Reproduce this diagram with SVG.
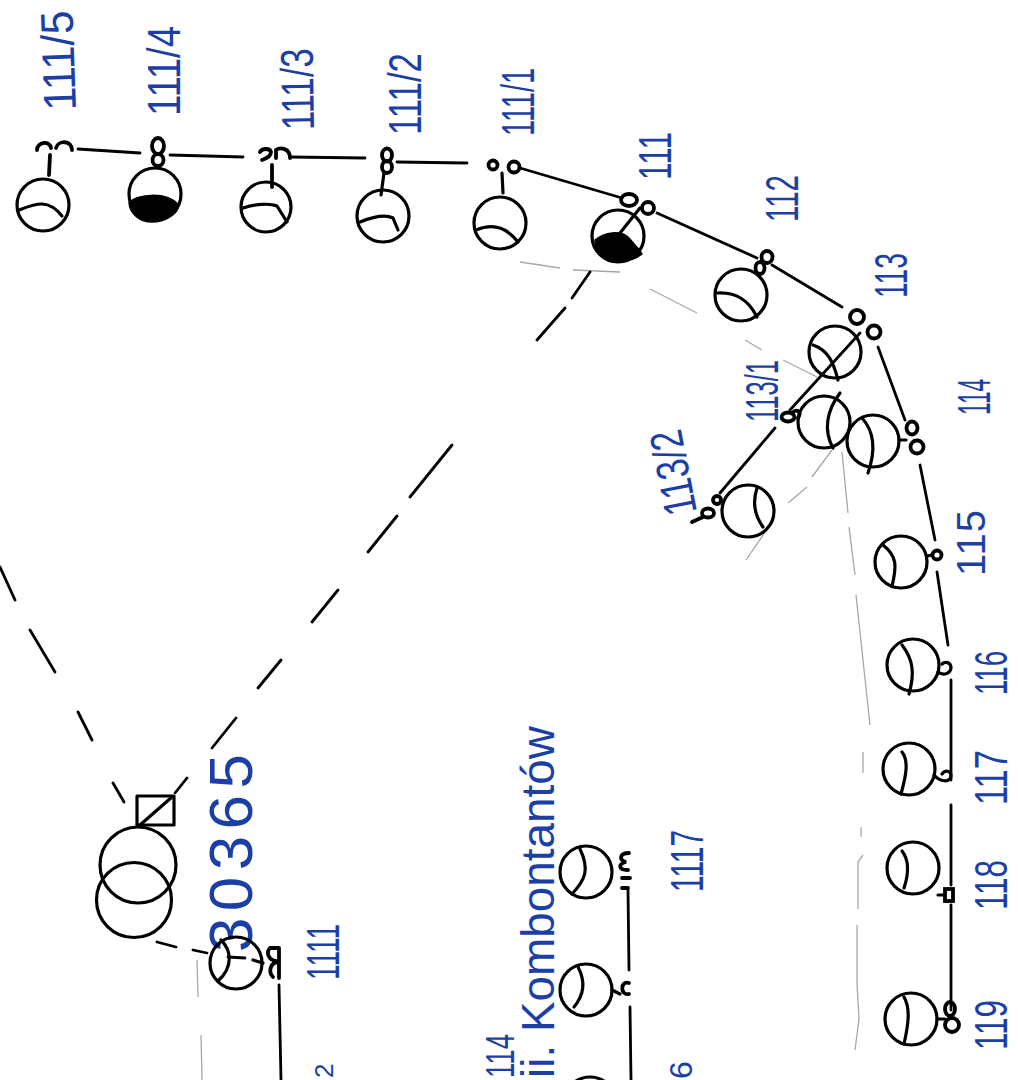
<svg xmlns="http://www.w3.org/2000/svg" width="1018" height="1080" viewBox="0 0 1018 1080">
<style>
.c{fill:none;stroke:#000;stroke-width:3.2;stroke-linecap:round;stroke-linejoin:round}
.f{fill:none;stroke:#000;stroke-width:3.8;stroke-linecap:round}
.k{fill:#000;stroke:#000;stroke-width:1.5}
.g{fill:none;stroke:#a4a9a9;stroke-width:1.3}
.b{fill:none;stroke:#000;stroke-width:2.8;stroke-linecap:round}
text{font-family:"Liberation Sans",Arial,sans-serif;fill:#1c3fa5;font-size:46px}
</style>
<rect width="1018" height="1080" fill="#fff"/>
<g id="guides">
<path class="g" d="M520 262L560 268M573 270L620 272M650 289L697 313M745 340L762 350M783 360L817 377"/>
<path class="g" d="M832 450L812 477M807 487L788 503M770 525L746 560M842 452L848 513M849 527L855 575M856 595L870 725M863 752L863 773M861 827L861 837M863 855L858 862L858 909M857 925L857 984L859 1019L855 1050"/>
<path class="g" d="M197 960L198 997M201 1035L202 1080"/>
</g>
<g id="connectors">
<path class="b" d="M78 149L140 153M170 155L243 157M290 157L365 158M397 162L467 163M520 168L622 198M657 213L757 258M772 265L842 307M878 347L905 420M920 465L935 540M937 572L948 645M951 680L951 780M951 805L951 885M951 905L951 1010"/>
<path class="b" d="M860 333L790 410M775 428L720 493"/>
<path class="b" d="M628 890L629 970M630 1007L631 1080M279 985L281 1080"/>
<path class="b" d="M0 567L15 600M30 630L55 672M78 712L92 740M113 783L124 802M175 793L187 778M212 748L236 718M258 688L281 660M312 622L338 590M368 552L397 516M410 497L452 445M537 340L565 308M572 298L590 272M157 942L176 947M193 950L207 953M228 957L245 958"/>
</g>
<g id="transformer">
<circle class="c" cx="138" cy="865" r="38"/>
<circle class="c" cx="134" cy="900" r="37.5"/>
<rect class="c" x="137" y="796" width="37" height="29"/>
<path class="c" d="M140 825L172 797"/>
<text transform="translate(252 952) rotate(-90)" textLength="198" style="font-size:62px">30365</text>
</g>
<g id="n111-5"><circle class="c" cx="43" cy="205" r="26"/><path class="c" d="M19 210C35 204 48 198 62 216"/><path class="f" d="M37 150C37 142 50 140 51 148M56 148C58 140 72 140 72 150M50 155L49 175"/><text transform="translate(76 110) rotate(-92)" textLength="100" lengthAdjust="spacingAndGlyphs">111/5</text></g>
<g id="n111-4"><circle class="c" cx="155" cy="194" r="26"/><path class="k" d="M129 203C135 195 165 190 179 205C178 214 165 222 152 222C140 222 130 214 129 203Z"/><ellipse class="f" cx="158" cy="146" rx="6" ry="8"/><ellipse class="f" cx="158" cy="160" rx="5.5" ry="6"/><text transform="translate(180 116) rotate(-90)" textLength="90" lengthAdjust="spacingAndGlyphs">111/4</text></g>
<g id="n111-3"><circle class="c" cx="266" cy="207" r="25"/><path class="c" d="M243 208C255 204 270 203 277 206L287 222"/><path class="f" d="M260 152C262 148 270 148 271 152C271 157 266 158 262 160M276 158L276 150C280 147 290 148 290 158M272 165L272 187"/><text transform="translate(314 130) rotate(-91)" textLength="82" lengthAdjust="spacingAndGlyphs">111/3</text></g>
<g id="n111-2"><circle class="c" cx="383" cy="216" r="26"/><path class="c" d="M360 222C370 218 385 214 393 218L398 230"/><ellipse class="f" cx="387" cy="155" rx="5" ry="6.5"/><ellipse class="f" cx="387" cy="167" rx="5" ry="6"/><path class="c" d="M384 173L381 195"/><text transform="translate(421 135) rotate(-90)" textLength="82" lengthAdjust="spacingAndGlyphs">111/2</text></g>
<g id="n111-1"><circle class="c" cx="500" cy="223" r="26"/><path class="c" d="M476 230C490 224 505 225 518 242"/><circle class="f" cx="493" cy="165" r="4.5"/><circle class="f" cx="514" cy="167" r="5.5"/><path class="c" d="M502 173L503 193"/><text transform="translate(534 136) rotate(-90)" textLength="68" lengthAdjust="spacingAndGlyphs">111/1</text></g>
<g id="n111"><circle class="c" cx="618" cy="236" r="26"/><path class="k" d="M595 240C605 232 620 230 628 237C635 245 640 250 642 254C630 264 605 264 596 250Z"/><ellipse class="f" cx="629" cy="200" rx="8" ry="6"/><circle class="f" cx="648" cy="208" r="6"/><path class="c" d="M640 208L620 233"/><text transform="translate(671 180) rotate(-90)" textLength="48" lengthAdjust="spacingAndGlyphs">111</text></g>
<g id="n112"><circle class="c" cx="741" cy="295" r="26"/><path class="c" d="M717 293C733 292 747 297 757 317"/><ellipse class="f" cx="767" cy="257" rx="5.5" ry="6"/><ellipse class="f" cx="760" cy="268" rx="4.5" ry="6"/><text transform="translate(798 222) rotate(-90)" textLength="47" lengthAdjust="spacingAndGlyphs">112</text></g>
<g id="n113"><circle class="c" cx="835" cy="352" r="26"/><path class="c" d="M813 345C827 350 833 360 838 380"/><ellipse class="f" cx="857" cy="317" rx="7" ry="7"/><circle class="f" cx="874" cy="332" r="6.5"/><text transform="translate(907 298) rotate(-90)" textLength="45" lengthAdjust="spacingAndGlyphs">113</text></g>
<g id="n113-1"><circle class="c" cx="824" cy="422" r="26"/><path class="c" d="M840 393C827 410 823 430 833 448"/><ellipse class="f" cx="788" cy="417" rx="6.5" ry="4.5"/><path class="f" d="M792 413C797 408 802 412 798 418"/><text transform="translate(778 422) rotate(-90)" textLength="62" lengthAdjust="spacingAndGlyphs">113/1</text></g>
<g id="n114"><circle class="c" cx="873" cy="441" r="26"/><path class="c" d="M862 418C873 430 877 447 868 473M899 440L906 440"/><ellipse class="f" cx="912" cy="428" rx="5.5" ry="6.5"/><ellipse class="f" cx="917" cy="447" rx="6.5" ry="6.5"/><text transform="translate(990 415) rotate(-90)" textLength="36" lengthAdjust="spacingAndGlyphs">114</text></g>
<g id="n113-2"><circle class="c" cx="748" cy="511" r="26"/><path class="c" d="M757 488C753 500 753 513 763 527"/><circle class="f" cx="717" cy="500" r="4"/><ellipse class="f" cx="708" cy="513" rx="6" ry="4.5"/><path class="f" d="M703 517L692 522"/><text transform="translate(697 512) rotate(-101)" textLength="86" lengthAdjust="spacingAndGlyphs">113/2</text></g>
<g id="n115"><circle class="c" cx="901" cy="562" r="26"/><path class="c" d="M883 545C897 556 897 566 892 586M927 556L932 555"/><circle class="f" cx="937" cy="555" r="4.5"/><text transform="translate(985 576) rotate(-90)" textLength="66" lengthAdjust="spacing" style="font-size:40px">115</text></g>
<g id="n116"><circle class="c" cx="913" cy="665" r="26"/><path class="c" d="M902 645C913 659 915 673 909 694M938 672C943 676 950 674 951 668C951 662 945 661 942 664"/><text transform="translate(1007 695) rotate(-90)" textLength="44" lengthAdjust="spacingAndGlyphs">116</text></g>
<g id="n117"><circle class="c" cx="909" cy="769" r="26"/><path class="c" d="M902 752C909 761 906 776 901 794M934 775C940 782 950 783 951 776C951 770 945 770 942 774"/><text transform="translate(1007 805) rotate(-90)" textLength="55" lengthAdjust="spacingAndGlyphs">117</text></g>
<g id="n118"><circle class="c" cx="913" cy="868" r="26"/><path class="c" d="M902 851C909 860 909 873 904 888"/><path class="c" d="M938 895L944 895"/><rect class="f" x="945" y="889" width="8" height="12"/><text transform="translate(1007 910) rotate(-90)" textLength="50" lengthAdjust="spacingAndGlyphs">118</text></g>
<g id="n119"><circle class="c" cx="911" cy="1019" r="26"/><path class="c" d="M904 997C911 1009 908 1026 904 1044M937 1019L945 1019"/><ellipse class="f" cx="950" cy="1009" rx="5" ry="7"/><circle class="f" cx="952" cy="1025" r="7"/><text transform="translate(1007 1050) rotate(-90)" textLength="50" lengthAdjust="spacingAndGlyphs">119</text></g>
<g id="n1111"><circle class="c" cx="236" cy="963" r="26"/><path class="c" d="M221 940C231 950 234 966 218 981M253 960L263 963"/><path class="f" d="M279 948L270 948C266 952 268 960 276 961M279 948L279 978M279 962C270 962 268 972 273 977"/><text transform="translate(339 980) rotate(-90)" textLength="56" lengthAdjust="spacingAndGlyphs">1111</text><text transform="translate(333 1078) rotate(-90)" style="font-size:26px">2</text></g>
<g id="n1117"><circle class="c" cx="586" cy="872" r="26"/><path class="c" d="M580 849C590 870 585 880 572 894"/><path class="f" d="M629 853C620 853 618 860 626 862C618 864 618 870 628 870M622 878L630 878M622 888L628 888"/><text transform="translate(703 892) rotate(-90)" textLength="62" lengthAdjust="spacingAndGlyphs">1117</text></g>
<g id="n1116"><circle class="c" cx="586" cy="990" r="26"/><path class="c" d="M578 967C586 982 584 995 574 1007M612 990L620 994"/><path class="f" d="M629 983C620 980 620 996 629 994"/><text transform="translate(692 1079) rotate(-90)" style="font-size:32px">6</text></g>
<g id="n1115"><circle class="c" cx="590" cy="1103" r="26"/></g>
<g id="note">
<text transform="translate(514 1078) rotate(-90)" textLength="44" lengthAdjust="spacingAndGlyphs" style="font-size:40px">114</text>
<text transform="translate(554 1078) rotate(-90)" textLength="352" lengthAdjust="spacingAndGlyphs">ii. Kombontantów</text>
</g>
</svg>
